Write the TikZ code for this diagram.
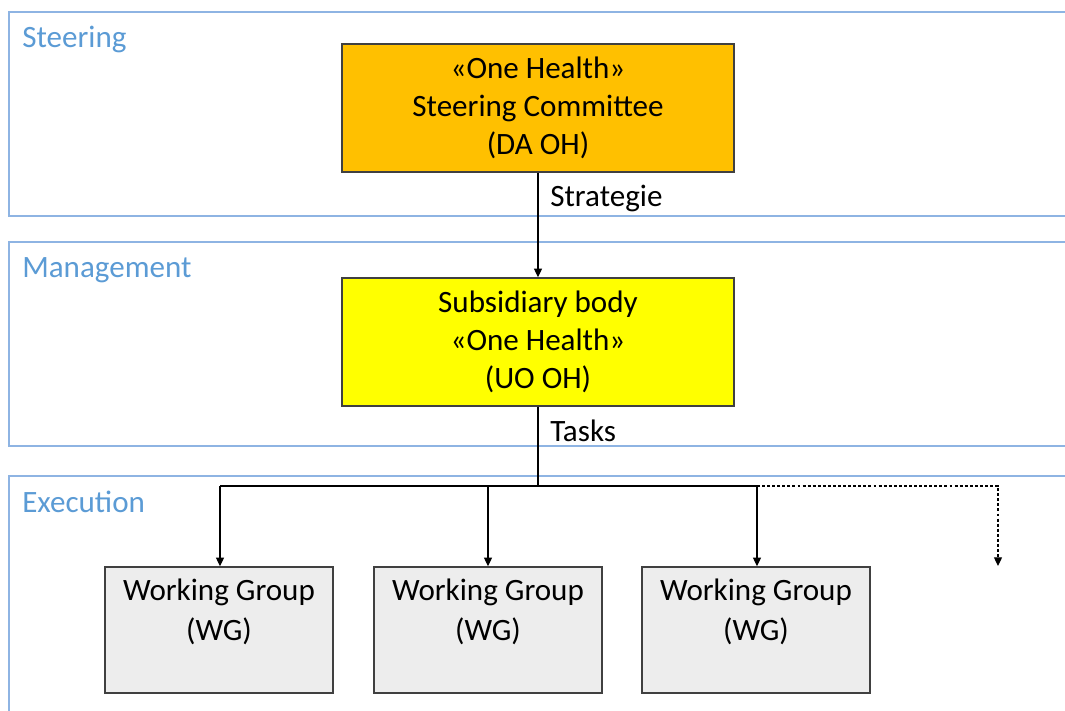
\documentclass[tikz,border=0pt]{standalone}
\usepackage{fontspec}
\setmainfont{Carlito}
\usetikzlibrary{arrows.meta}
\definecolor{bandline}{HTML}{8EB4E3}
\definecolor{bandtext}{HTML}{5B9BD5}
\definecolor{ohorange}{HTML}{FFC000}
\definecolor{ohyellow}{HTML}{FFFF00}
\definecolor{wgfill}{HTML}{EDEDED}
\definecolor{boxline}{HTML}{404040}
\tikzset{
  band/.style={draw=bandline, line width=1.4pt},
  bandlabel/.style={anchor=base west, text=bandtext, inner sep=0pt, font=\fontsize{23.3}{28}\selectfont},
  topbox/.style={draw=boxline, line width=1.1pt, minimum width=294pt, minimum height=96pt, align=center, inner sep=0pt, font=\fontsize{23.3}{28.5}\selectfont},
  wgbox/.style={draw=boxline, line width=1.1pt, fill=wgfill, minimum width=171pt, minimum height=94.5pt, align=center, inner sep=0pt, font=\fontsize{23.3}{30}\selectfont},
  conn/.style={draw=black, line width=0.9pt},
  tip/.style={-{Triangle[length=6.5pt,width=6pt]}},
  flowlabel/.style={anchor=base west, inner sep=0pt, font=\fontsize{23.3}{28}\selectfont}
}
\begin{document}
\begin{tikzpicture}[x=0.75pt, y=-0.75pt]
\useasboundingbox (0,0) rectangle (1065,711);
% bands
\draw[band] (1070,12) -- (9,12) -- (9,216) -- (1070,216);
\draw[band] (1070,242) -- (9,242) -- (9,446) -- (1070,446);
\draw[band] (1070,476) -- (9,476) -- (9,715);
\node[bandlabel] (lsteer) at (22,47) {Steering};
\node[bandlabel] (lmanage) at (22,277) {Management};
\node[bandlabel] (lexec) at (22,512) {Execution};
% boxes
\node[topbox, fill=ohorange] (sc) at (538,108) {«One Health»\\Steering Committee\\(DA OH)};
\node[topbox, fill=ohyellow] (uo) at (538,342) {Subsidiary body\\«One Health»\\(UO OH)};
\node[wgbox] (wg1) at (219,630) {Working Group\\(WG)\\\mbox{}};
\node[wgbox] (wg2) at (488,630) {Working Group\\(WG)\\\mbox{}};
\node[wgbox] (wg3) at (756,630) {Working Group\\(WG)\\\mbox{}};
\coordinate (hub) at (538,486);
\coordinate (hl) at (220,486);
\coordinate (hr) at (757,486);
\coordinate (hx) at (998,486);
\coordinate (xend) at (998,566);
% connectors
\draw[conn, tip] (sc.south) -- (uo.north);
\node[flowlabel] (lstrat) at (550,206) {Strategie};
\draw[conn] (uo.south) -- (hub);
\node[flowlabel] (ltasks) at (550,441) {Tasks};
\draw[conn] (hl) -- (hr);
\draw[conn, tip] (hl) -- (hl |- wg1.north);
\draw[conn, tip] (wg2.north |- hub) -- (wg2.north);
\draw[conn, tip] (hr) -- (hr |- wg3.north);
\draw[conn, dash pattern=on 2.2pt off 1.6pt, tip] (hr) -- (hx) -- (xend);
\end{tikzpicture}
\end{document}
